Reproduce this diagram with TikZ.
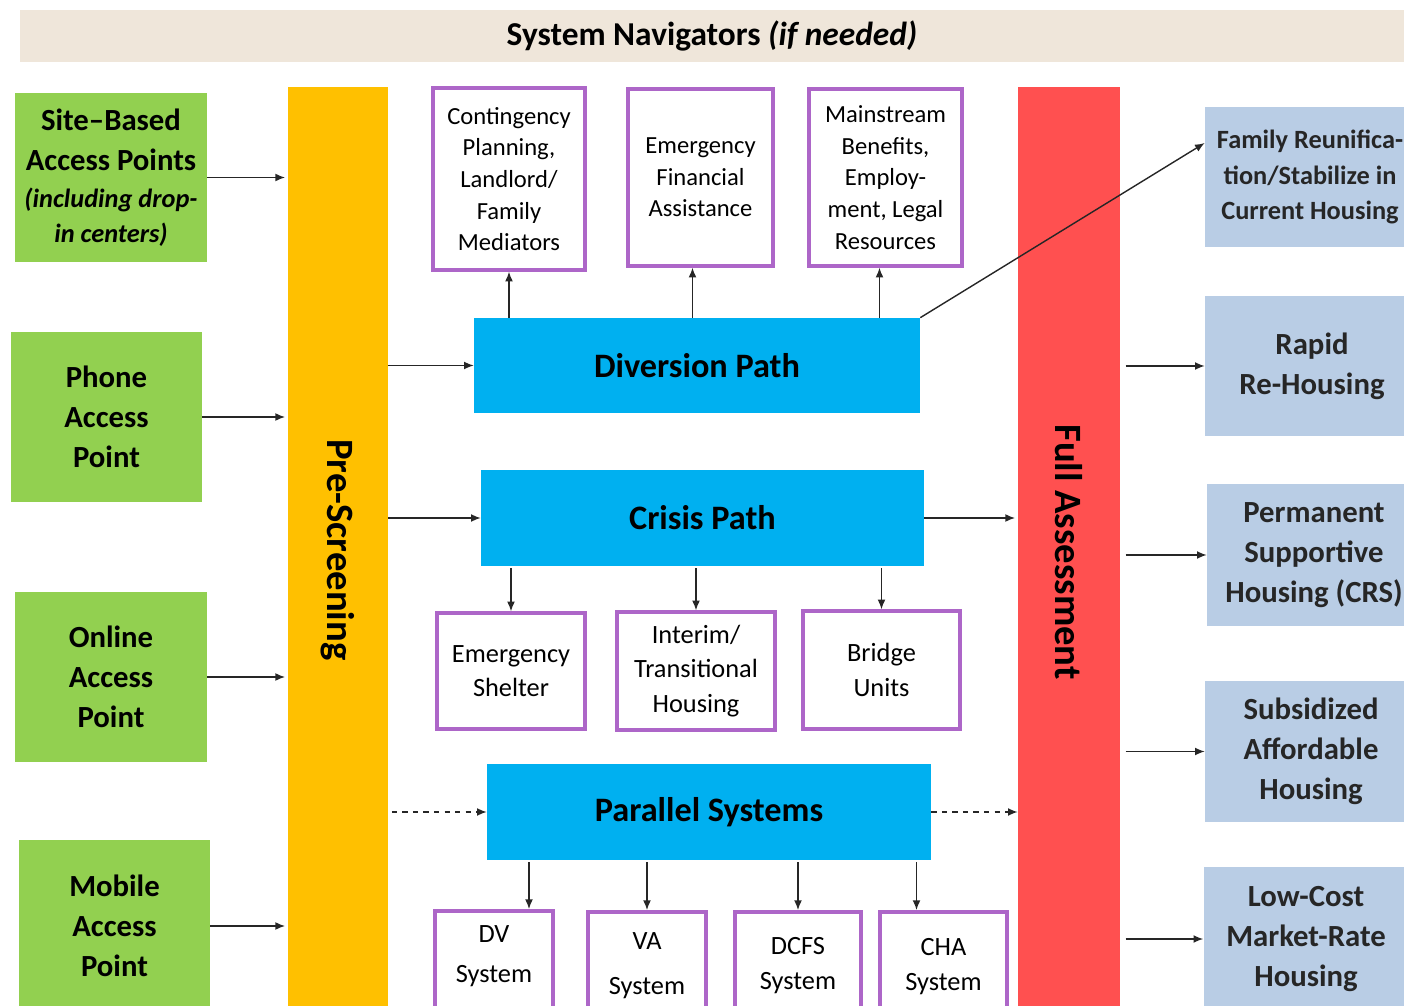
\documentclass[tikz,border=0pt]{standalone}
\usepackage{fontspec}
\setmainfont{Carlito}
\usepackage{graphicx}
\usepackage{tikz}
\usetikzlibrary{positioning, calc, arrows.meta}
\definecolor{xgreen}{HTML}{92D050}
\definecolor{xorange}{HTML}{FFC000}
\definecolor{xred}{HTML}{FF5050}
\definecolor{xblue}{HTML}{00B0F0}
\definecolor{xpurple}{HTML}{AD66C8}
\definecolor{xsteel}{HTML}{B9CDE5}
\definecolor{xsand}{HTML}{EFE6DA}
\tikzset{
	arrow/.style={line width=0.8pt, ->, >={Latex[length=5.5pt,width=4.5pt]}, draw=black!85},
	dasharrow/.style={arrow, dashed},
	band/.style={fill=xsand, inner sep=0pt, font=\fontsize{19}{23}\selectfont\bfseries},
	access/.style={fill=xgreen, align=center, inner sep=0pt, font=\fontsize{17.5}{22.8}\selectfont\bfseries},
	bar/.style={inner sep=0pt, font=\fontsize{22}{26}\selectfont\bfseries},
	pathbox/.style={fill=xblue, inner sep=0pt, font=\fontsize{19.5}{23}\selectfont\bfseries},
	optbox/.style={draw=xpurple, line width=2pt, fill=white, align=center, inner sep=0pt, font=\fontsize{14}{18}\selectfont},
	sysbox/.style={optbox, anchor=north, text depth=1.6cm, font=\fontsize{15}{19.5}\selectfont},
	outcome/.style={fill=xsteel, align=center, inner sep=0pt, text=black!85, font=\fontsize{17.5}{22.8}\selectfont\bfseries},
}

\begin{document}
\begin{tikzpicture}[x=0.02cm, y=-0.02cm]
	\useasboundingbox (0,0) rectangle (1404,1006);
	\clip (0,0) rectangle (1404,1006);

	\node[band, minimum width=27.68cm, minimum height=1.04cm] (nav) at (712,36) {System Navigators \textit{(if needed)}};

	\node[access, minimum width=3.84cm, minimum height=3.38cm] (site) at (111,177.5) {Site--Based\\Access Points\\[-2pt]{\fontsize{15}{19}\selectfont\itshape (including drop-}\\[-3pt]{\fontsize{15}{19}\selectfont\itshape in centers)}};
	\node[access, minimum width=3.82cm, minimum height=3.4cm] (phone) at (106.5,417) {Phone\\Access\\Point};
	\node[access, minimum width=3.84cm, minimum height=3.4cm] (online) at (111,677) {Online\\Access\\Point};
	\node[access, minimum width=3.82cm, minimum height=3.44cm] (mobile) at (114.5,926) {Mobile\\Access\\Point};

	\node[bar, fill=xorange, minimum width=2cm, minimum height=18.52cm] (pre) at (338,550) {\rotatebox{-90}{Pre-Screening}};
	\node[bar, fill=xred, minimum width=2.04cm, minimum height=18.6cm] (full) at (1069,552) {\rotatebox{-90}{Full Assessment}};

	\node[pathbox, minimum width=8.92cm, minimum height=1.9cm] (div) at (697,365.5) {Diversion Path};
	\node[pathbox, minimum width=8.86cm, minimum height=1.92cm] (crisis) at (702.5,518) {Crisis Path};
	\node[pathbox, minimum width=8.88cm, minimum height=1.92cm] (par) at (709,812) {Parallel Systems};

	\node[optbox, minimum width=3.04cm, minimum height=3.64cm] (cont) at (509,179) {Contingency\\Planning,\\Landlord/\\Family\\Mediators};
	\node[optbox, minimum width=2.9cm, minimum height=3.54cm] (efa) at (700.5,177.5) {Emergency\\Financial\\Assistance};
	\node[optbox, minimum width=3.06cm, minimum height=3.54cm] (main) at (885.5,177.5) {Mainstream\\Benefits,\\Employ-\\ment, Legal\\Resources};

	\node[optbox, minimum width=2.96cm, minimum height=2.32cm, font=\fontsize{15}{19.5}\selectfont] (shelter) at (511,671) {Emergency\\Shelter};
	\node[optbox, minimum width=3.16cm, minimum height=2.36cm, font=\fontsize{15}{19.5}\selectfont] (interim) at (696,671) {Interim/\\Transitional\\Housing};
	\node[optbox, minimum width=3.14cm, minimum height=2.36cm, font=\fontsize{15}{19.5}\selectfont] (bridge) at (881.5,670) {Bridge\\Units};

	\node[sysbox, minimum width=2.36cm, inner ysep=0.3cm] (dv) at (494,909) {DV\\[3pt]System};
	\node[sysbox, minimum width=2.36cm, inner ysep=0.42cm] (va) at (647,910) {VA\\[6pt]System};
	\node[sysbox, minimum width=2.52cm, inner ysep=0.52cm] (dcfs) at (798,910) {DCFS\\System};
	\node[sysbox, minimum width=2.54cm, inner ysep=0.54cm] (cha) at (943.5,910) {CHA\\System};

	\node[outcome, minimum width=4.2cm, minimum height=2.8cm, font=\fontsize{15}{20}\selectfont\bfseries] (fam) at (1310,177) {Family Reunifica-\\tion/Stabilize in\\Current Housing};
	\node[outcome, minimum width=4.28cm, minimum height=2.8cm] (rapid) at (1312,366) {Rapid\\Re-Housing};
	\node[outcome, minimum width=4.28cm, minimum height=2.84cm] (perm) at (1314,555) {Permanent\\Supportive\\Housing (CRS)};
	\node[outcome, minimum width=4.24cm, minimum height=2.82cm] (sub) at (1311,751.5) {Subsidized\\Affordable\\Housing};
	\node[outcome, minimum width=4.1cm, minimum height=2.88cm] (low) at (1306,939) {Low-Cost\\Market-Rate\\Housing};

	\draw[arrow, shorten >=1.5pt] (site.east) -- (pre.west |- site.east);
	\draw[arrow, shorten >=1.5pt] (phone.east) -- (pre.west |- phone.east);
	\draw[arrow, shorten >=1.5pt] (online.east) -- (pre.west |- online.east);
	\draw[arrow, shorten >=1.5pt] (mobile.east) -- (pre.west |- mobile.east);

	\draw[arrow] (pre.east |- div.west) -- (div.west);
	\draw[arrow] (pre.east |- crisis.west) -- (crisis.west);
	\draw[dasharrow, shorten <=2pt] (pre.east |- par.west) -- (par.west);

	\coordinate (efain) at ($(efa.south)+(-8,0)$);
	\coordinate (mainin) at ($(main.south)+(-6,0)$);
	\draw[arrow] (div.north -| cont) -- (cont.south);
	\draw[arrow] (div.north -| efain) -- (efain);
	\draw[arrow] (div.north -| mainin) -- (mainin);
	\draw[arrow] (div.north east) -- ([yshift=0.68cm]fam.west);

	\draw[arrow, shorten >=1.5pt] (crisis.east) -- (full.west |- crisis.east);
	\draw[arrow, shorten <=1pt] (crisis.south -| shelter) -- (shelter.north);
	\draw[arrow, shorten <=1pt] (crisis.south -| interim) -- (interim.north);
	\draw[arrow, shorten <=1pt] (crisis.south -| bridge) -- (bridge.north);

	\draw[dasharrow] (par.east) -- (full.west |- par.east);
	\coordinate (dvin) at ($(dv.north)+(35,0)$);
	\coordinate (chain) at ($(cha.north)+(-27,0)$);
	\draw[arrow, shorten <=1pt] (par.south -| dvin) -- (dvin);
	\draw[arrow, shorten <=1pt] (par.south -| va) -- (va.north);
	\draw[arrow, shorten <=1pt] (par.south -| dcfs) -- (dcfs.north);
	\draw[arrow, shorten <=1pt] (par.south -| chain) -- (chain);

	\draw[arrow, shorten <=3pt] (full.east |- rapid.west) -- (rapid.west);
	\draw[arrow, shorten <=3pt] (full.east |- perm.west) -- (perm.west);
	\draw[arrow, shorten <=3pt] (full.east |- sub.west) -- (sub.west);
	\draw[arrow, shorten <=3pt] (full.east |- low.west) -- (low.west);
\end{tikzpicture}
\end{document}
